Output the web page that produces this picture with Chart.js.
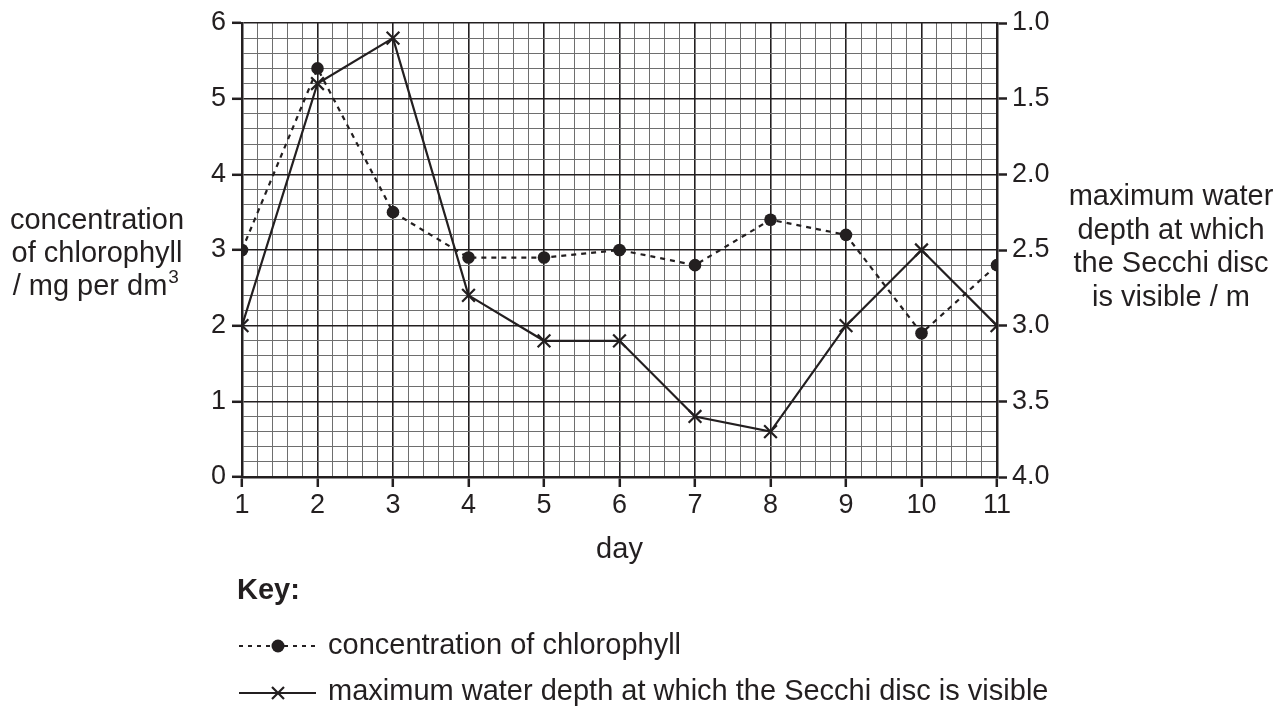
<!DOCTYPE html>
<html>
<head>
<meta charset="utf-8">
<script src="https://cdn.jsdelivr.net/npm/chart.js@4.4.1/dist/chart.umd.min.js"></script>
<style>
  html, body { margin: 0; padding: 0; background: #fff; }
  #wrap { width: 1279px; height: 706px; }
</style>
</head>
<body>
<div id="wrap"><canvas id="graph" width="1279" height="706"></canvas></div>
<script>
// values
var days = [1, 2, 3, 4, 5, 6, 7, 8, 9, 10, 11];
var chlorophyll = [3.0, 5.4, 3.5, 2.9, 2.9, 3.0, 2.8, 3.4, 3.2, 1.9, 2.8];
var secchiDepth = [3.0, 1.4, 1.1, 2.8, 3.1, 3.1, 3.6, 3.7, 3.0, 2.5, 3.0];

var leftTitle = ['concentration', 'of chlorophyll', '/ mg per dm'];
var rightTitle = ['maximum water', 'depth at which', 'the Secchi disc', 'is visible / m'];
var keyLabels = ['concentration of chlorophyll', 'maximum water depth at which the Secchi disc is visible'];

var ink = '#231f20';
var font = '"Liberation Sans", Arial, sans-serif';

function isWhole(v) { return Math.abs(v - Math.round(v)) < 1e-6; }

function points(ys) {
    return days.map(function (d, i) { return {x: d, y: ys[i]}; });
}

function gridColor(c) { return c.tick && isWhole(c.tick.value) ? ink : '#6e6e6e'; }
function gridWidth(c) { return c.tick && isWhole(c.tick.value) ? 1.6 : 1; }
function tickColor(c) { return c.tick && isWhole(c.tick.value) ? ink : 'rgba(0,0,0,0)'; }

// axis titles and key
var extras = {
    id: 'extras',
    afterDraw: function (chart) {
        var ctx = chart.ctx;
        ctx.save();
        ctx.fillStyle = ink;
        ctx.textBaseline = 'middle';
        ctx.font = '29px ' + font;

        ctx.textAlign = 'center';
        ctx.fillText(leftTitle[0], 97, 221);
        ctx.fillText(leftTitle[1], 97, 254);
        var w = ctx.measureText(leftTitle[2]).width;
        ctx.fillText(leftTitle[2], 97 - 7, 287);
        ctx.font = '19px ' + font;
        ctx.textAlign = 'left';
        ctx.fillText('3', 97 - 7 + w / 2 + 1, 278);

        ctx.font = '29px ' + font;
        ctx.textAlign = 'center';
        rightTitle.forEach(function (t, i) { ctx.fillText(t, 1171, 197 + i * 33.7); });

        var area = chart.chartArea;
        ctx.fillText('day', (area.left + area.right) / 2, 550);

        ctx.textAlign = 'left';
        ctx.font = 'bold 29px ' + font;
        ctx.fillText('Key:', 237, 591);

        ctx.font = '29px ' + font;
        ctx.fillText(keyLabels[0], 328, 646);
        ctx.fillText(keyLabels[1], 328, 692);

        ctx.strokeStyle = ink;
        ctx.lineWidth = 2.2;
        ctx.setLineDash([4, 5]);
        ctx.beginPath(); ctx.moveTo(239, 646); ctx.lineTo(316, 646); ctx.stroke();
        ctx.setLineDash([]);
        ctx.beginPath(); ctx.arc(278, 646, 6.5, 0, Math.PI * 2); ctx.fill();

        ctx.beginPath(); ctx.moveTo(239, 693); ctx.lineTo(316, 693); ctx.stroke();
        ctx.beginPath();
        ctx.moveTo(272, 687); ctx.lineTo(284, 699);
        ctx.moveTo(284, 687); ctx.lineTo(272, 699);
        ctx.stroke();
        ctx.restore();
    }
};

new Chart(document.getElementById('graph').getContext('2d'), {
    type: 'line',
    data: {
        datasets: [{
            label: keyLabels[0],
            data: points(chlorophyll),
            yAxisID: 'y',
            borderColor: ink,
            backgroundColor: ink,
            borderWidth: 2.2,
            borderDash: [5, 5],
            pointStyle: 'circle',
            pointRadius: 6.3,
            pointBorderWidth: 0,
            tension: 0
        }, {
            label: keyLabels[1],
            data: points(secchiDepth),
            yAxisID: 'y1',
            borderColor: ink,
            backgroundColor: ink,
            borderWidth: 2.2,
            pointStyle: 'crossRot',
            pointRadius: 9,
            pointBorderWidth: 2.2,
            tension: 0
        }]
    },
    options: {
        responsive: false,
        animation: false,
        layout: {padding: {top: 23, left: 0, right: 0, bottom: 0}},
        plugins: {legend: {display: false}, tooltip: {enabled: false}},
        scales: {
            x: {
                type: 'linear',
                min: 1, max: 11,
                afterFit: function (s) { s.height = 229; },
                border: {color: ink, width: 2.5},
                grid: {color: gridColor, lineWidth: gridWidth, tickColor: tickColor, tickLength: 10, tickWidth: 2.5},
                ticks: {
                    stepSize: 0.2, maxTicksLimit: 100, autoSkip: false, maxRotation: 0,
                    color: ink, font: {family: font, size: 27}, padding: 2,
                    callback: function (v) { return isWhole(v) ? String(Math.round(v)) : ''; }
                }
            },
            y: {
                position: 'left',
                min: 0, max: 6,
                afterFit: function (s) { s.width = 242; },
                border: {color: ink, width: 2.5},
                grid: {color: gridColor, lineWidth: gridWidth, tickColor: tickColor, tickLength: 10, tickWidth: 2.5},
                ticks: {
                    stepSize: 0.2, maxTicksLimit: 100, autoSkip: false,
                    color: ink, font: {family: font, size: 27}, padding: 6,
                    callback: function (v) { return isWhole(v) ? String(Math.round(v)) : ''; }
                }
            },
            y1: {
                position: 'right',
                reverse: true,
                min: 1, max: 4,
                afterFit: function (s) { s.width = 282; },
                border: {color: ink, width: 2.5},
                grid: {drawOnChartArea: false, color: ink, tickLength: 10, tickWidth: 2.5},
                ticks: {
                    stepSize: 0.5, autoSkip: false,
                    color: ink, font: {family: font, size: 27}, padding: 5,
                    callback: function (v) { return v.toFixed(1); }
                }
            }
        }
    },
    plugins: [extras]
});
</script>
</body>
</html>
